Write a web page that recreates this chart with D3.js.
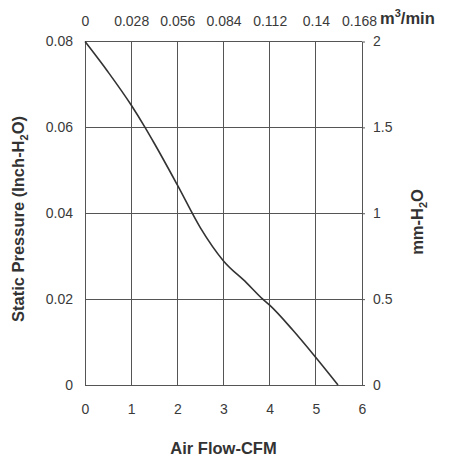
<!DOCTYPE html>
<html lang="en">
<head>
<meta charset="utf-8">
<script src="https://d3js.org/d3.v7.min.js"></script>
<style>
  body { margin: 0; background: #fff; }
  svg { display: block; font-family: "Liberation Sans", Arial, sans-serif; }
  .tick text { fill: #3a3a3a; font-size: 14px; }
  .title { fill: #333; font-size: 16.5px; font-weight: bold; }
</style>
</head>
<body>
<svg width="453" height="460"></svg>
<script>
// air flow in CFM and static pressure in inch-H2O
const cfm = [0, 0.5, 1, 1.3, 1.5, 2, 2.5, 3, 3.5, 3.85, 4, 4.5, 5, 5.48];
const pressure = [0.08, 0.0729, 0.0652, 0.06, 0.0563, 0.0466, 0.0366, 0.0289, 0.0238, 0.02, 0.0186, 0.0128, 0.0064, 0];

const cfmTicks = [0, 1, 2, 3, 4, 5, 6];
const m3Labels = ['0', '0.028', '0.056', '0.084', '0.112', '0.14', '0.168'];
const inchTicks = [0, 0.02, 0.04, 0.06, 0.08];
const mmTicks = [0, 0.5, 1, 1.5, 2];

const plotL = 85, plotR = 362, plotT = 41.5, plotB = 385;
const svg = d3.select('svg');

const x = d3.scaleLinear().domain([0, 6]).range([plotL, plotR]);
const y = d3.scaleLinear().domain([0, 0.08]).range([plotB, plotT]);
const yMm = d3.scaleLinear().domain([0, 2]).range([plotB, plotT]);

// grid
const grid = svg.append('g').attr('stroke', '#555').attr('stroke-width', 1).attr('shape-rendering', 'crispEdges');
grid.selectAll('.vx').data(cfmTicks).enter().append('line')
  .attr('x1', d => x(d)).attr('x2', d => x(d))
  .attr('y1', plotT).attr('y2', plotB);
grid.selectAll('.hy').data(inchTicks).enter().append('line')
  .attr('x1', plotL).attr('x2', plotR)
  .attr('y1', d => y(d)).attr('y2', d => y(d));

// axes (labels only, right one has short ticks)
const bottomAxis = svg.append('g')
  .attr('transform', `translate(0,${plotB + 16})`)
  .call(d3.axisBottom(x).tickValues(cfmTicks).tickSize(0).tickFormat(d3.format('d')));
bottomAxis.select('.domain').remove();

const topAxis = svg.append('g')
  .attr('transform', `translate(0,${plotT - 13})`)
  .call(d3.axisTop(x).tickValues(cfmTicks).tickSize(0).tickFormat((d, i) => m3Labels[i]));
topAxis.select('.domain').remove();
// last label sits a little left so it clears the unit
topAxis.selectAll('.tick').filter(d => d === 6).select('text').attr('dx', -3);

const leftAxis = svg.append('g')
  .attr('transform', `translate(${plotL - 9},0)`)
  .call(d3.axisLeft(y).tickValues(inchTicks).tickSize(0).tickFormat(d => d === 0 ? '0' : d3.format('.2f')(d)));
leftAxis.select('.domain').remove();

const rightAxis = svg.append('g')
  .attr('transform', `translate(${plotR},0)`)
  .call(d3.axisRight(yMm).tickValues(mmTicks).tickSize(3).tickPadding(8).tickFormat(d3.format('')));
rightAxis.select('.domain').remove();
rightAxis.selectAll('.tick line').attr('stroke', '#555');

// curve
const line = d3.line()
  .x((d, i) => x(cfm[i]))
  .y(d => y(d))
  .curve(d3.curveMonotoneX);
svg.append('path')
  .attr('d', line(pressure))
  .attr('fill', 'none')
  .attr('stroke', '#333')
  .attr('stroke-width', 1.6);

// titles
svg.append('text').attr('class', 'title')
  .attr('x', 223.5).attr('y', 454).attr('text-anchor', 'middle')
  .text('Air Flow-CFM');

const yt = svg.append('text').attr('class', 'title')
  .attr('transform', 'translate(23.5,219) rotate(-90)')
  .attr('text-anchor', 'middle');
yt.append('tspan').text('Static Pressure (Inch-H');
yt.append('tspan').attr('dy', 4).attr('font-size', 11).text('2');
yt.append('tspan').attr('dy', -4).text('O)');

const rt = svg.append('text').attr('class', 'title')
  .attr('transform', 'translate(423,222) rotate(-90)')
  .attr('text-anchor', 'middle');
rt.append('tspan').text('mm-H');
rt.append('tspan').attr('dy', 4).attr('font-size', 11).text('2');
rt.append('tspan').attr('dy', -4).text('O');

const mt = svg.append('text').attr('class', 'title')
  .attr('x', 380).attr('y', 24);
mt.append('tspan').text('m');
mt.append('tspan').attr('dy', -7).attr('font-size', 11).text('3');
mt.append('tspan').attr('dy', 7).text('/min');
</script>
</body>
</html>
